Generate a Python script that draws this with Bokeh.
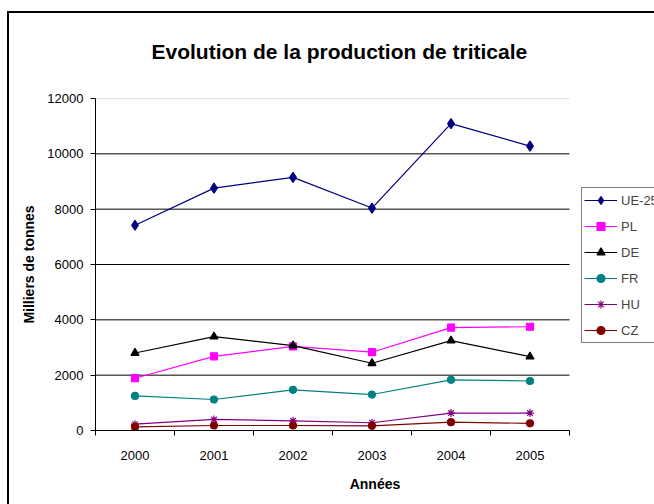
from bokeh.plotting import figure
from bokeh.models import FixedTicker, Legend, LegendItem
from bokeh.embed import file_html
from bokeh.resources import INLINE

years = ["2000", "2001", "2002", "2003", "2004", "2005"]
ue25 = [7420, 8760, 9150, 8040, 11090, 10280]
pl = [1890, 2680, 3040, 2830, 3720, 3750]
de = [2800, 3390, 3070, 2430, 3250, 2670]
fr = [1250, 1120, 1470, 1300, 1830, 1790]
hu = [230, 400, 350, 280, 630, 630]
cz = [130, 180, 180, 170, 300, 260]
y_ticks = [0, 2000, 4000, 6000, 8000, 10000, 12000]

FONT = "Liberation Sans"
n = len(years)
x = [i + 0.5 for i in range(n)]
bounds = list(range(n + 1))

# plot area 95..569 px for the categories; frame extended to the right edge to host the legend
FRAME_L, CAT_R, W = 95, 569, 654
x_end = n * (W - FRAME_L) / (CAT_R - FRAME_L)

p = figure(width=W, height=504, x_range=(0, x_end), y_range=(y_ticks[0], y_ticks[-1]),
           output_backend="svg", toolbar_location=None,
           min_border_left=FRAME_L, min_border_right=0, min_border_top=98, min_border_bottom=74,
           title="Evolution de la production de triticale")
p.title.align = "left"
p.title.text_font = FONT
p.title.text_font_size = "21px"
p.title.text_font_style = "bold"
p.title.text_color = "black"
p.title.offset = 56
p.title.standoff = 72
p.outline_line_color = None
p.background_fill_color = "white"
p.border_fill_color = None
p.styles = {
    "background": "linear-gradient(#000,#000) 7px 11px / 2px 100% no-repeat, "
                  "linear-gradient(#000,#000) 7px 11px / 100% 2px no-repeat, white",
}

# x axis
p.xaxis.bounds = (0, n)
p.xaxis.ticker = FixedTicker(ticks=x, minor_ticks=bounds)
p.xaxis.major_label_overrides = {xx: yy for xx, yy in zip(x, years)}
p.xaxis.major_tick_out = 0
p.xaxis.major_tick_in = 0
p.xaxis.minor_tick_out = 5
p.xaxis.minor_tick_in = 0
p.xaxis.minor_tick_line_color = "black"
p.xaxis.major_label_standoff = 15
p.xaxis.axis_label = "Années"
p.xaxis.axis_label_standoff = 13
for ax in (p.xaxis, p.yaxis):
    ax.axis_line_color = "black"
    ax.major_tick_line_color = "black"
    ax.major_label_text_font = FONT
    ax.major_label_text_font_size = "13px"
    ax.major_label_text_color = "black"
    ax.axis_label_text_font = FONT
    ax.axis_label_text_font_size = "14px"
    ax.axis_label_text_font_style = "bold"
    ax.axis_label_text_color = "black"

p.yaxis.ticker = FixedTicker(ticks=y_ticks, minor_ticks=[])
p.yaxis.major_tick_out = 5
p.yaxis.major_tick_in = 0
p.yaxis.major_label_standoff = 7
p.yaxis.axis_label = "Milliers de tonnes"
p.yaxis.axis_label_standoff = 7

p.xgrid.grid_line_color = None
p.ygrid.grid_line_color = None
grid_y = y_ticks[1:-1]
p.segment(x0=[0] * len(grid_y), x1=[n] * len(grid_y), y0=grid_y, y1=grid_y,
          line_color="black", line_width=1)
p.segment(x0=[0], x1=[n], y0=[y_ticks[-1]], y1=[y_ticks[-1]], line_color="#c8c8c8", line_width=1)

series = [
    ("UE-25", ue25, "#000080", "diamond", 10),
    ("PL", pl, "#FF00FF", "square", 7),
    ("DE", de, "#000000", "triangle", 8),
    ("FR", fr, "#008080", "circle", 7),
    ("HU", hu, "#800080", "asterisk", 8),
    ("CZ", cz, "#800000", "circle", 7),
]
items = []
for name, vals, col, mk, sz in series:
    l = p.line(x, vals, line_color=col, line_width=1.2)
    m = p.scatter(x, vals, marker=mk, size=sz, fill_color=col, line_color=col, line_width=1.2)
    items.append(LegendItem(label=name, renderers=[l, m]))

legend = Legend(items=items, location=(486, 87))
legend.border_line_color = "black"
legend.border_line_width = 1
legend.background_fill_color = "white"
legend.background_fill_alpha = 1
legend.label_text_font = FONT
legend.label_text_font_size = "13px"
legend.glyph_width = 33
legend.glyph_height = 20
legend.label_standoff = 4
legend.spacing = 6
legend.padding = 2
legend.margin = 0
legend.label_height = 20
p.add_layout(legend, "center")

open("out.html", "w").write(file_html(p, INLINE))
